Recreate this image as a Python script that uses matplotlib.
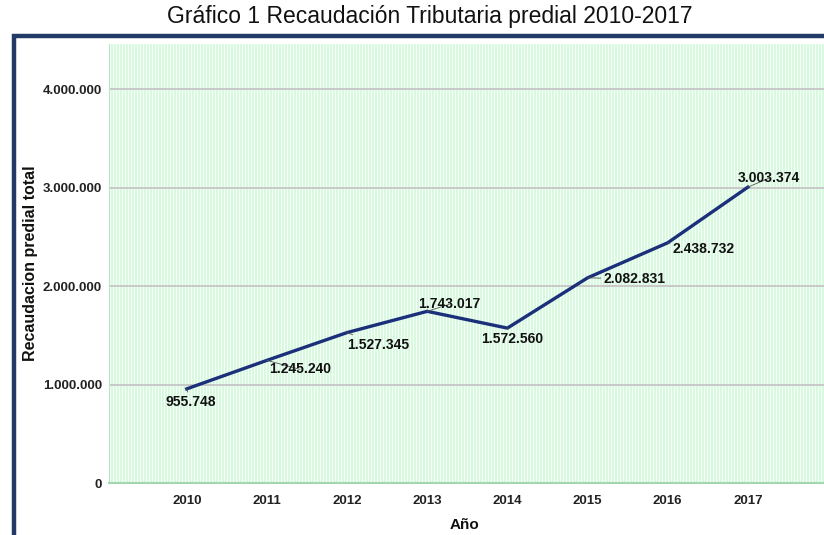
import matplotlib
matplotlib.use('Agg')
import matplotlib.pyplot as plt
from matplotlib.lines import Line2D
from matplotlib.ticker import FuncFormatter
import numpy as np

# Data
years = [2010, 2011, 2012, 2013, 2014, 2015, 2016, 2017]
recaudacion = [955748, 1245240, 1527345, 1743017, 1572560, 2082831, 2438732, 3003374]
y_ticks = [0, 1000000, 2000000, 3000000, 4000000]

# label offsets (pixels) and alignment for each point label
label_offsets = [(4, -13), (2, -9), (0, -12), (-9, 7), (5, -11), (16, -1), (5, -6), (-10, 9)]
label_ha = ['center', 'left', 'left', 'left', 'center', 'left', 'left', 'left']

def miles(v, pos=None):
    return f'{int(v):,}'.replace(',', '.')

W, H = 824, 535
fig = plt.figure(figsize=(W / 100, H / 100), dpi=100)
ax = fig.add_axes([109 / W, 1 - 483 / H, 1 - 109 / W, (483 - 44) / H])

# striped light green background
ax.set_facecolor('#f6fff8')
for xs in np.arange(0, 1, 3 / 715):
    ax.plot([xs, xs], [0, 1], color='#d0f6d9', lw=1.1, zorder=0, transform=ax.transAxes)
ax.set_xlim(2009.03, 2017.95)
ax.set_ylim(0, 4457000)

ax.set_yticks(y_ticks)
ax.yaxis.set_major_formatter(FuncFormatter(miles))
ax.set_xticks(years)
ax.grid(axis='y', color='#c8c8c8', lw=1.4, zorder=1)
ax.set_axisbelow(True)

for s in ['top', 'right']:
    ax.spines[s].set_visible(False)
ax.spines['left'].set_color('#b9e2c6')
ax.spines['bottom'].set_color('#a5d6b3')
ax.spines['bottom'].set_linewidth(1.5)

ax.tick_params(length=0)
ax.tick_params(axis='x', pad=9)
ax.tick_params(axis='y', pad=5)
for t in ax.get_xticklabels() + ax.get_yticklabels():
    t.set_fontfamily('Liberation Sans')
    t.set_fontweight('bold')
    t.set_fontsize(9.5)
    t.set_color('#222222')

ax.plot(years, recaudacion, color='#1b2f7a', lw=2.4, zorder=3, solid_joinstyle='round')

for x, y, off, ha in zip(years, recaudacion, label_offsets, label_ha):
    ax.annotate(miles(y), xy=(x, y), xytext=(off[0] * 0.72, off[1] * 0.72),
                textcoords='offset points', ha=ha, va='center',
                fontsize=10, fontweight='bold', family='Liberation Sans', color='#111111',
                arrowprops=dict(arrowstyle='-', color='#555555', lw=0.6, shrinkA=0, shrinkB=0),
                zorder=4)

ax.set_ylabel('Recaudacion predial total', fontsize=11.5, fontweight='bold', family='Liberation Sans',
              color='#111111', va='center')
ax.yaxis.set_label_coords(-(109 - 31) / (W - 109), 0.5)
fig.text(465 / W, 1 - 525 / H, 'Año', ha='center', va='center', fontsize=11, fontweight='bold',
         family='Liberation Sans', color='#111111')

fig.text(430 / W, 1 - 17 / H, 'Gráfico 1 Recaudación Tributaria predial 2010-2017', ha='center', va='center',
         fontsize=16.5, family='Liberation Sans', color='#111111')

# dark blue frame around the chart (top and left visible)
fig.add_artist(Line2D([14 / W, 14 / W, 1], [0, 1 - 36 / H, 1 - 36 / H], transform=fig.transFigure,
                      color='#233a68', lw=3.2, solid_joinstyle='miter'))

fig.savefig('out.png', dpi=100)
